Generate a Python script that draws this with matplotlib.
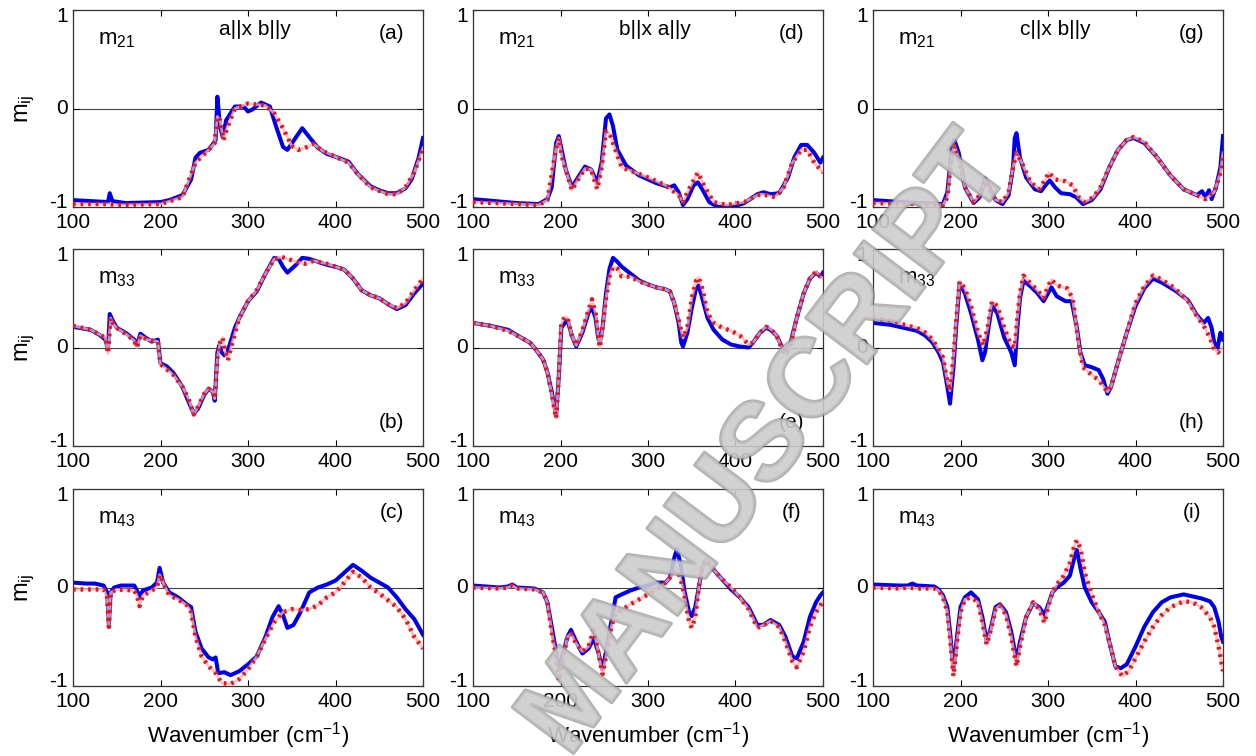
import matplotlib
matplotlib.use("Agg")
import matplotlib.pyplot as plt
import matplotlib.patheffects as pe
import matplotlib.transforms as mtransforms

plt.rcParams['font.family'] = ['Liberation Sans', 'DejaVu Sans']
plt.rcParams['axes.unicode_minus'] = False
plt.rcParams['mathtext.fontset'] = 'custom'
plt.rcParams['mathtext.rm'] = 'Liberation Sans'

# ---- data ----
# panel (a): m21, a||x b||y
a_x_exp = [100, 140, 142, 145, 160, 200, 210, 225, 235, 240, 245, 255, 260, 263, 265, 268, 271, 275, 285, 295, 300, 305, 315, 325,
           332, 340, 345, 355, 362, 370, 380, 390, 400, 415, 425, 440, 450, 460, 470, 480, 487, 495, 500]
a_y_exp = [-0.93, -0.95, -0.86, -0.94, -0.96, -0.95, -0.93, -0.88, -0.72, -0.5, -0.45, -0.42, -0.36, -0.32, 0.12, -0.18, -0.29, -0.12,
           0.02, 0.02, -0.03, -0.01, 0.06, 0.02, -0.18, -0.39, -0.42, -0.29, -0.2, -0.29, -0.4, -0.46, -0.49, -0.54, -0.66, -0.79,
           -0.83, -0.86, -0.86, -0.81, -0.72, -0.5, -0.3]
a_x_fit = [100, 140, 150, 200, 225, 240, 255, 262, 265, 268, 272, 276, 285, 300, 320, 330, 340, 350, 357, 365, 375, 385, 400, 415,
           425, 440, 460, 470, 480, 490, 500]
a_y_fit = [-0.97, -0.97, -0.98, -0.97, -0.9, -0.55, -0.42, -0.35, -0.08, -0.12, -0.32, -0.2, 0.0, 0.05, 0.03, -0.05, -0.2, -0.38,
           -0.42, -0.4, -0.36, -0.43, -0.49, -0.55, -0.66, -0.8, -0.87, -0.87, -0.8, -0.65, -0.4]

# panel (b): m33, a||x b||y
b_x_exp = [100, 120, 130, 137, 140, 142, 145, 150, 160, 170, 173, 177, 183, 190, 197, 200, 207, 215, 225, 232, 238, 243, 250, 255,
           260, 262, 265, 267, 270, 273, 277, 285, 290, 300, 310, 320, 330, 335, 340, 345, 355, 362, 370, 380, 390, 400, 410, 420,
           430, 440, 450, 460, 470, 480, 490, 500]
b_y_exp = [0.21, 0.18, 0.13, 0.08, -0.02, 0.34, 0.28, 0.2, 0.15, 0.08, 0.02, 0.14, 0.1, 0.06, 0.08, -0.16, -0.19, -0.26, -0.4, -0.55,
           -0.67, -0.62, -0.48, -0.42, -0.45, -0.54, -0.05, 0.02, -0.05, -0.08, -0.03, 0.2, 0.3, 0.47, 0.57, 0.75, 0.91, 0.9, 0.82,
           0.76, 0.84, 0.91, 0.9, 0.87, 0.84, 0.82, 0.79, 0.7, 0.58, 0.53, 0.5, 0.44, 0.39, 0.43, 0.55, 0.65]
b_x_fit = [100, 120, 137, 140, 143, 146, 150, 160, 170, 173, 177, 185, 197, 200, 207, 215, 225, 232, 238, 243, 250, 255, 260, 262,
           265, 268, 271, 274, 277, 282, 290, 300, 310, 320, 330, 338, 345, 355, 365, 375, 390, 400, 410, 420, 430, 440, 450, 460,
           470, 480, 490, 500]
b_y_fit = [0.22, 0.18, 0.1, -0.06, 0.3, 0.24, 0.2, 0.14, 0.07, 0.0, 0.12, 0.08, 0.06, -0.17, -0.22, -0.28, -0.4, -0.52, -0.68, -0.6,
           -0.47, -0.42, -0.45, -0.52, -0.1, 0.05, 0.1, -0.05, -0.13, 0.05, 0.3, 0.47, 0.58, 0.75, 0.9, 0.92, 0.9, 0.87, 0.85, 0.88,
           0.85, 0.82, 0.79, 0.7, 0.58, 0.53, 0.5, 0.44, 0.4, 0.45, 0.58, 0.7]

# panel (c): m43, a||x b||y
c_x_exp = [100, 115, 125, 135, 139, 141, 143, 147, 155, 170, 173, 176, 180, 190, 196, 199, 203, 210, 220, 230, 235, 240, 247, 255,
           260, 263, 266, 273, 280, 290, 300, 310, 320, 328, 335, 340, 345, 352, 360, 370, 380, 390, 400, 410, 420, 430, 440, 450,
           460, 470, 480, 490, 500]
c_y_exp = [0.05, 0.04, 0.04, 0.02, -0.05, -0.37, -0.05, 0.0, 0.02, 0.02, -0.03, -0.09, -0.03, 0.0, 0.05, 0.2, 0.05, -0.05, -0.1,
           -0.17, -0.2, -0.45, -0.62, -0.71, -0.73, -0.71, -0.87, -0.86, -0.89, -0.85, -0.78, -0.7, -0.5, -0.3, -0.19, -0.28, -0.41,
           -0.38, -0.25, -0.05, 0.0, 0.03, 0.07, 0.15, 0.23, 0.17, 0.1, 0.05, 0.0, -0.1, -0.22, -0.32, -0.48]
c_x_fit = [100, 125, 135, 139, 141, 143, 150, 170, 173, 176, 180, 190, 196, 199, 203, 210, 220, 230, 235, 240, 247, 255, 263, 270,
           280, 290, 300, 310, 320, 330, 340, 350, 360, 370, 380, 390, 400, 410, 420, 430, 440, 450, 460, 470, 480, 490, 500]
c_y_fit = [-0.02, -0.02, -0.02, -0.1, -0.4, -0.05, -0.02, -0.03, -0.08, -0.19, -0.08, -0.03, 0.0, 0.13, 0.05, -0.08, -0.12, -0.18,
           -0.25, -0.5, -0.7, -0.8, -0.87, -0.97, -0.98, -0.93, -0.83, -0.7, -0.52, -0.35, -0.25, -0.22, -0.23, -0.22, -0.18, -0.1,
           -0.05, 0.05, 0.16, 0.1, 0.0, -0.06, -0.13, -0.2, -0.32, -0.5, -0.62]

# panel (d): m21, b||x a||y
d_x_exp = [100, 150, 175, 185, 190, 195, 198, 202, 206, 213, 220, 228, 235, 242, 247, 252, 256, 260, 265, 275, 290, 310, 325, 330,
           335, 340, 345, 352, 357, 362, 370, 380, 400, 410, 425, 432, 440, 450, 460, 467, 475, 482, 490, 497, 500]
d_y_exp = [-0.92, -0.96, -0.97, -0.92, -0.8, -0.35, -0.28, -0.45, -0.62, -0.8, -0.7, -0.59, -0.62, -0.75, -0.55, -0.1, -0.06, -0.18,
           -0.42, -0.58, -0.68, -0.76, -0.8, -0.78, -0.85, -0.98, -0.92, -0.78, -0.75, -0.82, -0.95, -1.0, -0.99, -0.96, -0.87,
           -0.85, -0.87, -0.86, -0.7, -0.5, -0.37, -0.37, -0.45, -0.55, -0.5]
d_x_fit = [100, 175, 185, 195, 198, 202, 213, 220, 228, 235, 242, 247, 252, 256, 262, 270, 280, 300, 320, 335, 340, 348, 357, 365,
           375, 390, 410, 425, 430, 445, 455, 465, 475, 482, 490, 500]
d_y_fit = [-0.95, -0.98, -0.93, -0.4, -0.3, -0.5, -0.83, -0.72, -0.61, -0.62, -0.82, -0.6, -0.23, -0.25, -0.4, -0.6, -0.63, -0.7,
           -0.78, -0.88, -0.95, -0.8, -0.65, -0.8, -0.95, -0.98, -0.95, -0.88, -0.87, -0.9, -0.8, -0.55, -0.42, -0.42, -0.55, -0.65]

# panel (e): m33, b||x a||y
e_x_exp = [100, 120, 140, 155, 165, 170, 180, 185, 190, 195, 198, 201, 205, 208, 213, 218, 225, 232, 236, 240, 243, 245, 248, 252,
           256, 260, 265, 270, 280, 290, 300, 310, 320, 325, 330, 335, 338, 340, 345, 350, 355, 358, 362, 368, 375, 385, 395, 405,
           415, 420, 428, 435, 440, 447, 455, 458, 463, 470, 478, 485, 492, 497, 500]
e_y_exp = [0.25, 0.22, 0.18, 0.1, 0.05, 0.0, -0.12, -0.25, -0.45, -0.69, -0.3, 0.2, 0.25, 0.28, 0.12, 0.01, 0.15, 0.35, 0.41, 0.3,
           0.1, 0.05, 0.2, 0.55, 0.8, 0.91, 0.87, 0.82, 0.75, 0.68, 0.64, 0.61, 0.59, 0.57, 0.45, 0.25, 0.05, 0.01, 0.15, 0.4, 0.6,
           0.63, 0.5, 0.3, 0.18, 0.08, 0.03, 0.01, 0.0, 0.05, 0.15, 0.2, 0.18, 0.12, -0.03, -0.06, 0.05, 0.3, 0.55, 0.7, 0.76, 0.72,
           0.76]
e_x_fit = [100, 120, 140, 155, 165, 170, 180, 185, 190, 195, 198, 201, 205, 208, 213, 218, 225, 232, 236, 240, 243, 245, 248, 252,
           256, 260, 265, 270, 280, 290, 300, 310, 320, 325, 330, 335, 340, 345, 350, 355, 358, 362, 368, 375, 385, 395, 405, 415,
           420, 428, 435, 440, 447, 455, 458, 463, 470, 478, 485, 492, 497, 500]
e_y_fit = [0.25, 0.22, 0.17, 0.1, 0.05, 0.0, -0.12, -0.25, -0.47, -0.72, -0.3, 0.25, 0.31, 0.3, 0.12, 0.02, 0.17, 0.38, 0.49, 0.35,
           0.12, 0.0, 0.2, 0.5, 0.72, 0.82, 0.8, 0.72, 0.72, 0.67, 0.64, 0.61, 0.59, 0.57, 0.45, 0.28, 0.1, 0.2, 0.5, 0.68, 0.71, 0.6,
           0.35, 0.25, 0.2, 0.17, 0.12, 0.03, 0.05, 0.15, 0.21, 0.19, 0.12, -0.05, -0.07, 0.03, 0.3, 0.55, 0.7, 0.77, 0.72, 0.7]

# panel (f): m43, b||x a||y
f_x_exp = [100, 130, 140, 145, 150, 170, 180, 185, 190, 195, 198, 202, 208, 212, 218, 225, 232, 238, 243, 248, 252, 258, 263, 270,
           280, 290, 300, 310, 320, 325, 330, 333, 337, 342, 347, 350, 354, 358, 362, 366, 375, 385, 395, 405, 415, 425, 432, 440,
           450, 457, 465, 470, 478, 485, 492, 497, 500]
f_y_exp = [0.02, 0.0, 0.01, 0.03, 0.0, -0.01, -0.05, -0.15, -0.4, -0.65, -0.84, -0.7, -0.5, -0.43, -0.55, -0.67, -0.62, -0.52, -0.65,
           -0.83, -0.65, -0.35, -0.1, -0.07, -0.03, 0.0, 0.02, 0.05, 0.05, 0.1, 0.3, 0.39, 0.25, -0.05, -0.25, -0.29, -0.2, 0.0, 0.2,
           0.28, 0.18, 0.08, -0.02, -0.1, -0.2, -0.38, -0.38, -0.33, -0.38, -0.5, -0.7, -0.72, -0.55, -0.3, -0.15, -0.08, -0.05]
f_x_fit = [100, 130, 140, 145, 150, 170, 180, 185, 190, 195, 198, 202, 208, 212, 218, 225, 232, 238, 243, 248, 252, 258, 263, 270,
           280, 290, 300, 310, 320, 325, 330, 333, 337, 342, 347, 350, 354, 358, 362, 366, 375, 385, 395, 405, 415, 425, 432, 440,
           450, 457, 465, 470, 478, 485, 492, 497, 500]
f_y_fit = [0.0, -0.01, 0.0, 0.02, -0.01, -0.02, -0.05, -0.15, -0.45, -0.7, -0.95, -0.75, -0.5, -0.47, -0.57, -0.65, -0.6, -0.43,
           -0.65, -0.88, -0.7, -0.4, -0.25, -0.23, -0.17, -0.12, -0.07, -0.02, 0.05, 0.1, 0.15, 0.17, 0.1, -0.1, -0.35, -0.41, -0.3,
           0.0, 0.2, 0.28, 0.18, 0.08, 0.0, -0.1, -0.22, -0.41, -0.38, -0.34, -0.4, -0.55, -0.75, -0.81, -0.65, -0.4, -0.25, -0.18,
           -0.15]

# panel (g): m21, c||x b||y
g_x_exp = [100, 150, 180, 185, 190, 193, 198, 205, 215, 222, 228, 233, 240, 248, 255, 260, 262, 264, 268, 275, 285, 292, 298, 302,
           308, 315, 325, 332, 340, 350, 360, 370, 380, 390, 398, 410, 425, 440, 455, 470, 476, 480, 484, 487, 492, 497, 500]
g_y_exp = [-0.93, -0.96, -0.97, -0.85, -0.4, -0.32, -0.45, -0.8, -0.96, -0.9, -0.71, -0.8, -0.93, -0.97, -0.88, -0.6, -0.3, -0.25,
           -0.5, -0.7, -0.82, -0.84, -0.77, -0.73, -0.8, -0.86, -0.87, -0.9, -0.97, -0.93, -0.82, -0.6, -0.42, -0.32, -0.3, -0.35,
           -0.5, -0.68, -0.82, -0.88, -0.84, -0.9, -0.83, -0.92, -0.8, -0.6, -0.28]
g_x_fit = [100, 150, 180, 185, 190, 193, 198, 205, 215, 222, 228, 233, 240, 248, 255, 260, 264, 270, 280, 290, 297, 301, 308, 320,
           328, 335, 342, 352, 360, 370, 380, 390, 398, 410, 425, 440, 455, 470, 480, 490, 497, 500]
g_y_fit = [-0.96, -0.97, -0.98, -0.9, -0.45, -0.38, -0.5, -0.8, -0.95, -0.88, -0.73, -0.82, -0.93, -0.95, -0.85, -0.6, -0.45, -0.55,
           -0.75, -0.82, -0.72, -0.65, -0.72, -0.74, -0.78, -0.9, -0.95, -0.9, -0.8, -0.6, -0.42, -0.32, -0.29, -0.34, -0.5, -0.68,
           -0.82, -0.88, -0.92, -0.85, -0.65, -0.45]

# panel (h): m33, c||x b||y
h_x_exp = [100, 120, 140, 150, 160, 168, 175, 180, 185, 188, 192, 195, 199, 205, 212, 220, 225, 228, 232, 236, 242, 250, 258, 262,
           265, 268, 272, 280, 288, 295, 300, 304, 310, 320, 327, 333, 337, 342, 350, 358, 363, 368, 372, 380, 390, 400, 410, 420,
           430, 445, 460, 470, 478, 483, 487, 490, 494, 497, 500]
h_y_exp = [0.25, 0.23, 0.19, 0.17, 0.12, 0.05, -0.05, -0.15, -0.4, -0.57, -0.2, 0.2, 0.65, 0.55, 0.35, 0.08, -0.13, -0.05, 0.2, 0.42,
           0.35, 0.1, -0.05, -0.18, 0.2, 0.5, 0.68, 0.62, 0.55, 0.47, 0.55, 0.61, 0.52, 0.47, 0.47, 0.2, -0.05, -0.18, -0.2, -0.23,
           -0.32, -0.47, -0.4, -0.15, 0.15, 0.42, 0.6, 0.7, 0.66, 0.58, 0.48, 0.33, 0.25, 0.3, 0.2, 0.05, 0.0, 0.15, 0.08]
h_x_fit = [100, 120, 140, 150, 160, 168, 175, 180, 185, 188, 192, 195, 199, 205, 212, 220, 226, 231, 236, 242, 250, 258, 262, 265,
           268, 272, 280, 288, 295, 300, 304, 310, 322, 328, 335, 340, 350, 358, 368, 372, 380, 390, 400, 410, 420, 430, 445, 460,
           470, 478, 485, 490, 494, 500]
h_y_fit = [0.3, 0.27, 0.22, 0.2, 0.15, 0.08, -0.02, -0.1, -0.35, -0.44, -0.1, 0.25, 0.67, 0.6, 0.42, 0.15, 0.02, 0.2, 0.47, 0.42,
           0.2, 0.02, 0.0, 0.3, 0.55, 0.73, 0.65, 0.58, 0.5, 0.62, 0.69, 0.63, 0.6, 0.5, 0.05, -0.2, -0.28, -0.33, -0.45, -0.4,
           -0.15, 0.15, 0.45, 0.62, 0.73, 0.69, 0.6, 0.47, 0.32, 0.22, 0.1, -0.02, -0.05, 0.0]

# panel (i): m43, c||x b||y
i_x_exp = [100, 130, 140, 145, 150, 170, 175, 180, 185, 188, 192, 196, 200, 205, 212, 220, 225, 230, 235, 240, 245, 252, 258, 264,
           268, 275, 283, 290, 296, 300, 305, 310, 318, 325, 330, 333, 337, 342, 350, 358, 365, 370, 377, 383, 390, 400, 410, 420,
           430, 440, 455, 465, 475, 485, 490, 495, 498, 500]
i_y_exp = [0.03, 0.02, 0.02, 0.04, 0.02, 0.01, -0.02, -0.08, -0.2, -0.45, -0.83, -0.5, -0.2, -0.1, -0.05, -0.12, -0.3, -0.55, -0.4,
           -0.2, -0.17, -0.25, -0.45, -0.74, -0.55, -0.3, -0.16, -0.2, -0.28, -0.18, -0.05, 0.0, 0.05, 0.12, 0.3, 0.38, 0.2, 0.0,
           -0.15, -0.25, -0.35, -0.55, -0.8, -0.82, -0.78, -0.6, -0.4, -0.25, -0.15, -0.1, -0.07, -0.09, -0.11, -0.14, -0.2, -0.35,
           -0.5, -0.55]
i_x_fit = [100, 130, 140, 150, 170, 175, 180, 185, 188, 192, 196, 200, 205, 212, 220, 225, 230, 235, 240, 245, 252, 258, 264, 268,
           275, 283, 290, 296, 300, 305, 310, 318, 325, 330, 333, 337, 342, 350, 358, 365, 370, 377, 385, 392, 400, 410, 420, 430,
           440, 455, 465, 475, 485, 490, 495, 500]
i_y_fit = [0.0, -0.01, 0.0, -0.01, -0.01, -0.03, -0.1, -0.25, -0.5, -0.9, -0.55, -0.25, -0.12, -0.1, -0.15, -0.35, -0.58, -0.42,
           -0.22, -0.18, -0.28, -0.5, -0.8, -0.6, -0.3, -0.15, -0.22, -0.36, -0.2, -0.05, 0.03, 0.12, 0.25, 0.42, 0.48, 0.4, 0.15,
           -0.07, -0.25, -0.38, -0.55, -0.8, -0.9, -0.85, -0.72, -0.55, -0.4, -0.28, -0.2, -0.14, -0.15, -0.2, -0.3, -0.4, -0.6,
           -0.85]

elements = ['21', '33', '43']
orientations = ['a||x b||y', 'b||x a||y', 'c||x b||y']
panel_letters = [['a', 'b', 'c'], ['d', 'e', 'f'], ['g', 'h', 'i']]
xticks = [100, 200, 300, 400, 500]
yticks = [-1, 0, 1]

panels = [[(a_x_exp, a_y_exp, a_x_fit, a_y_fit), (b_x_exp, b_y_exp, b_x_fit, b_y_fit), (c_x_exp, c_y_exp, c_x_fit, c_y_fit)],
          [(d_x_exp, d_y_exp, d_x_fit, d_y_fit), (e_x_exp, e_y_exp, e_x_fit, e_y_fit), (f_x_exp, f_y_exp, f_x_fit, f_y_fit)],
          [(g_x_exp, g_y_exp, g_x_fit, g_y_fit), (h_x_exp, h_y_exp, h_x_fit, h_y_fit), (i_x_exp, i_y_exp, i_x_fit, i_y_fit)]]

fig = plt.figure(figsize=(12.56, 7.56), dpi=100)

lefts = [73, 473, 873]
tops = [10, 249, 489]
w, h = 350, 197
# matlab-ish: end labels sit a little inside the box
ylab_pos = {-1: -0.955, 0: 0.0, 1: 0.93}

for col in range(3):
    for row in range(3):
        ax = fig.add_axes([lefts[col] / 1256, 1 - (tops[row] + h) / 756, w / 1256, h / 756])
        xe, ye, xf, yf = panels[col][row]
        ax.axhline(0, color='#444444', lw=0.8, zorder=1)
        ax.plot(xe, ye, color='#0000ee', lw=2.9, solid_joinstyle='round', zorder=2)
        ax.plot(xf, yf, color='#f5b5b5', lw=2.0, alpha=0.8, zorder=3)
        ax.plot(xf, yf, color='#e8141c', lw=3.2, ls=(0, (0.6, 1.1)), zorder=4)
        ax.set_xlim(100, 500)
        ax.set_ylim(-1.0, 1.0)
        ax.set_xticks(xticks)
        ax.set_yticks(yticks)
        ax.set_yticklabels([])
        ax.tick_params(direction='in', top=True, right=True, length=4, width=0.8,
                       labelsize=15, pad=4)
        for s in ax.spines.values():
            s.set_linewidth(0.9)
            s.set_color('#333333')
        trans = mtransforms.blended_transform_factory(ax.transAxes, ax.transData)
        for t in yticks:
            ax.text(-0.014, ylab_pos[t], str(t), transform=trans, ha='right', va='center',
                    fontsize=15, clip_on=False)

        ax.text(0.07, 0.85, r'$\mathregular{m_{%s}}$' % elements[row], transform=ax.transAxes,
                fontsize=16, ha='left', va='center')
        if row == 0:
            ax.text(0.52, 0.9, orientations[col], transform=ax.transAxes, fontsize=15,
                    ha='center', va='center')
        lab = '(%s)' % panel_letters[col][row]
        ly = 0.12 if row == 1 else 0.88
        ax.text(0.91, ly, lab, transform=ax.transAxes, fontsize=15, ha='center', va='center')

        if col == 0:
            ax.text(-0.137, 0.5, r'$\mathregular{m_{ij}}$', transform=ax.transAxes, fontsize=17,
                    rotation=90, ha='center', va='center')
        if row == 2:
            ax.set_xlabel(r'Wavenumber (cm$\mathregular{^{-1}}$)', fontsize=16, labelpad=7)

# "accepted manuscript" style watermark
fig.text(0.612, 0.41, 'MANUSCRIPT', rotation=53, fontsize=80, fontweight='bold',
         ha='center', va='center', color='#cccccc', alpha=0.68, zorder=10,
         path_effects=[pe.withStroke(linewidth=2.5, foreground='#8f8f8f')])

fig.savefig('out.png', dpi=100)
